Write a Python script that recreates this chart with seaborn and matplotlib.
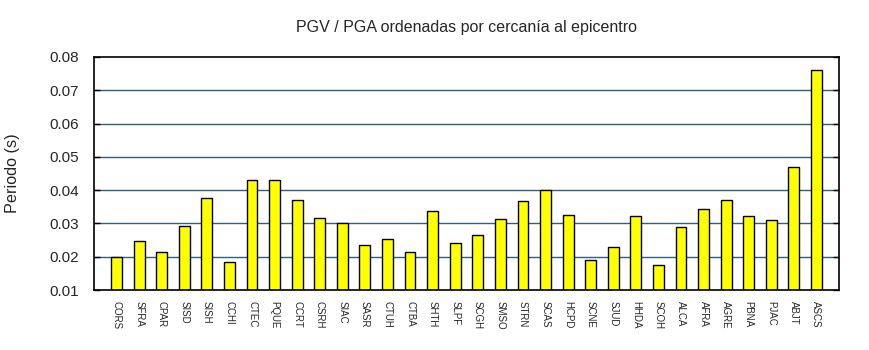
import matplotlib
matplotlib.use("Agg")
import matplotlib.pyplot as plt
import seaborn as sns
import pandas as pd

stations = ["CORS", "SFRA", "CPAR", "SISD", "SISH", "CCHI", "CTEC", "PQUE",
            "CCRT", "CSRH", "SIAC", "SASR", "CTUH", "CTBA", "SHTH", "SLPF",
            "SCGH", "SMSO", "STRN", "SCAS", "HCPD", "SCNE", "SJUD", "HHDA",
            "SCOH", "ALCA", "AFRA", "AGRE", "PBNA", "PJAC", "ABJT", "ASCS"]
periodo = [0.0199, 0.0246, 0.0213, 0.0291, 0.0375, 0.0183, 0.0429, 0.0429,
           0.0369, 0.0315, 0.0300, 0.0234, 0.0252, 0.0213, 0.0336, 0.0240,
           0.0264, 0.0312, 0.0366, 0.0399, 0.0324, 0.0189, 0.0228, 0.0321,
           0.0174, 0.0288, 0.0342, 0.0369, 0.0321, 0.0309, 0.0471, 0.0762]
yticks = [0.01, 0.02, 0.03, 0.04, 0.05, 0.06, 0.07, 0.08]

sns.set_style("white")
plt.rcParams["font.family"] = ["Liberation Sans", "DejaVu Sans"]

df = pd.DataFrame({"estacion": stations, "periodo": periodo})

fig = plt.figure(figsize=(8.7, 3.5), dpi=100)
ax = fig.add_axes([94 / 870, 1 - 290 / 350, 745 / 870, 233 / 350])

ax.set_ylim(0.01, 0.08)
ax.set_yticks(yticks)
for t in yticks[1:-1]:
    ax.axhline(t, color="#2e5f7e", lw=1.0, zorder=0)

sns.barplot(data=df, x="estacion", y="periodo", ax=ax, color="#ffff00",
            saturation=1, width=0.48, edgecolor="black", linewidth=1.0,
            zorder=2)
# bars rise from the bottom of the axis
for patch, v in zip(ax.patches, periodo):
    patch.set_y(0.01)
    patch.set_height(v - 0.01)

ax.set_xlim(-1, len(stations))
ax.set_xlabel("")
ax.set_ylabel("Periodo (s)", fontsize=11.7, labelpad=21)
ax.set_title("PGV / PGA ordenadas por cercanía al epicentro", fontsize=11.5,
             pad=18)

ax.set_yticklabels([f"{t:.2f}" for t in yticks])
ax.tick_params(axis="y", which="both", direction="in", length=4, width=1,
               left=True, right=True, labelsize=11, pad=11, color="black")
ax.tick_params(axis="x", length=0, labelsize=7, pad=8)
for lab in ax.get_xticklabels():
    lab.set_rotation(270)
    lab.set_va("top")
    lab.set_ha("center")

for s in ax.spines.values():
    s.set_visible(True)
    s.set_color("black")
    s.set_linewidth(1.2)

fig.savefig("out.png", dpi=100)
